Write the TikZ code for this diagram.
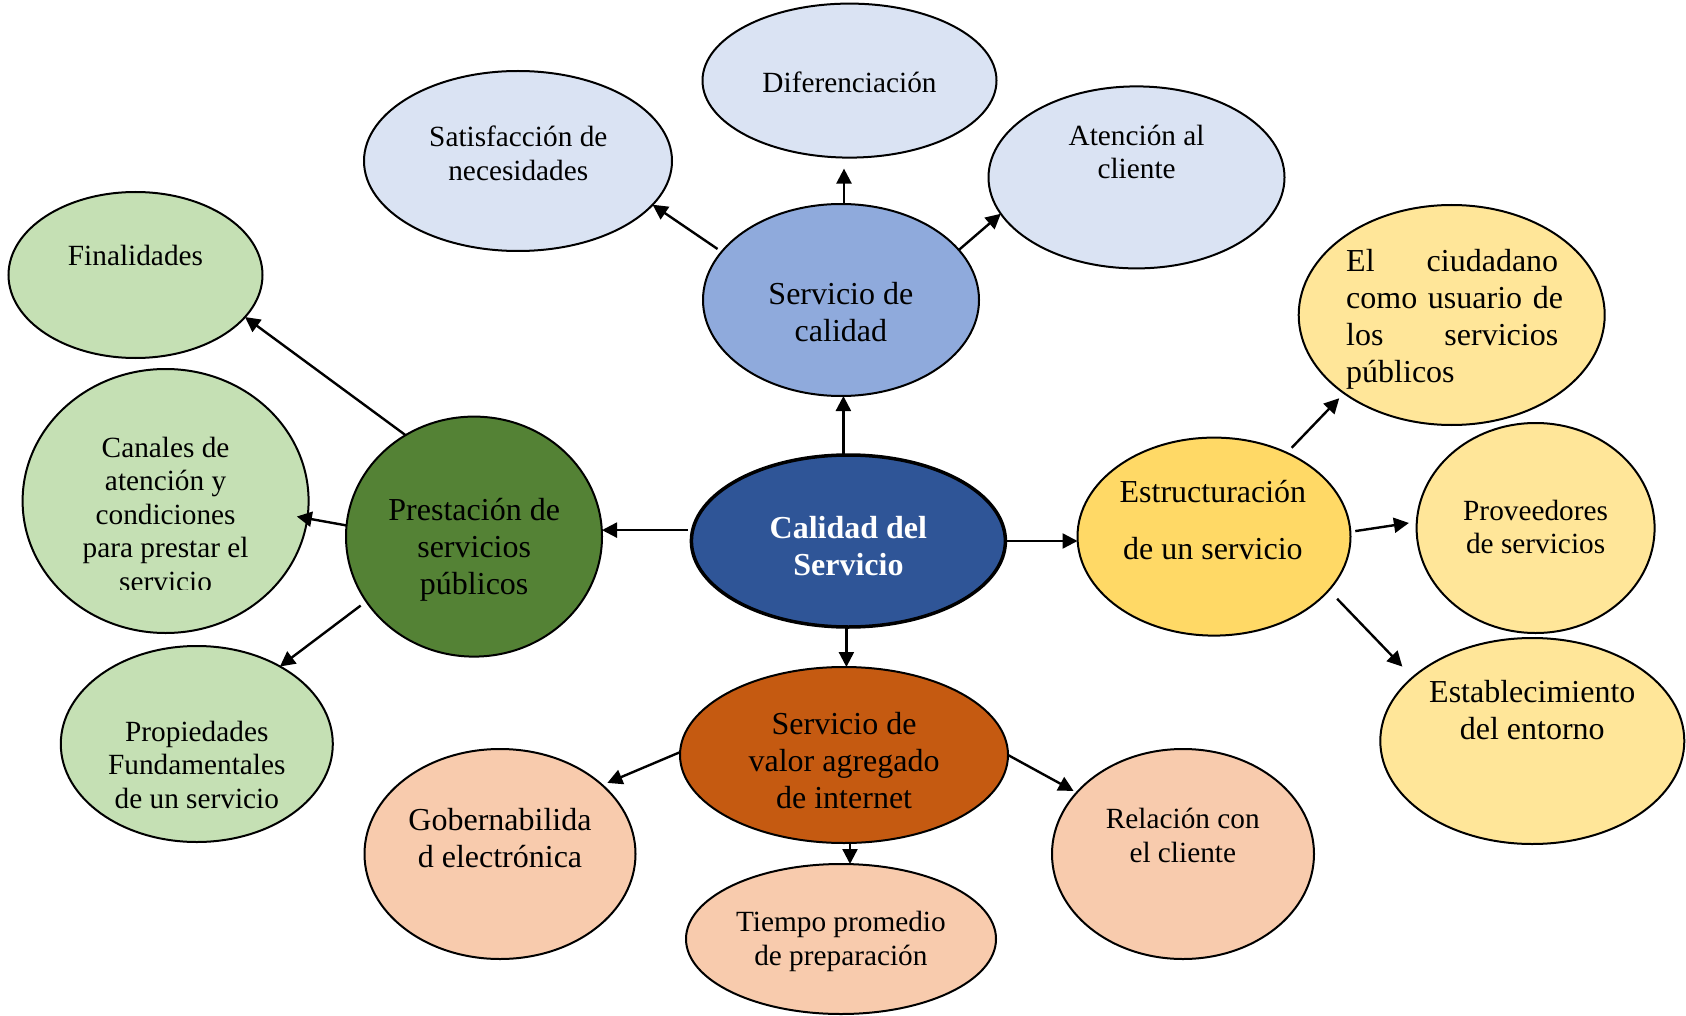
\documentclass[tikz,border=0pt]{standalone}
\usepackage{fontspec}
\setmainfont{Liberation Serif}
\usetikzlibrary{shapes.geometric,arrows.meta}
\definecolor{lblue}{HTML}{DAE3F3}
\definecolor{mblue}{HTML}{8FAADC}
\definecolor{dblue}{HTML}{2F5597}
\definecolor{lgreen}{HTML}{C5E0B4}
\definecolor{dgreen}{HTML}{548235}
\definecolor{lyellow}{HTML}{FFE699}
\definecolor{myellow}{HTML}{FFD966}
\definecolor{lorange}{HTML}{F8CBAD}
\definecolor{dorange}{HTML}{C55A11}
\begin{document}
\begin{tikzpicture}[x=1pt,y=-1pt,
  bubble/.style={ellipse,draw=black,line width=2pt,inner sep=0pt,outer sep=0pt},
  bigtxt/.style={font=\fontsize{32}{37}\selectfont,align=center,inner sep=0pt},
  smalltxt/.style={font=\fontsize{29.3}{33.5}\selectfont,align=center,inner sep=0pt},
  link/.style={line width=2.4pt,-{Triangle[length=15pt,width=15pt]}}]
\useasboundingbox (0,0) rectangle (1686,1016);

% ---------- bubbles ----------
\node[bubble,fill=lblue,minimum width=294pt,minimum height=154pt] (dif) at (849.5,80.6) {};
\node[bubble,fill=lblue,minimum width=308pt,minimum height=180pt] (sat) at (518,161) {};
\node[bubble,fill=lblue,minimum width=296pt,minimum height=182pt] (aten) at (1136.5,177.4) {};
\node[bubble,fill=mblue,minimum width=276pt,minimum height=192pt] (scal) at (841,300) {};

\node[bubble,fill=lgreen,minimum width=254pt,minimum height=166pt] (fin) at (135.5,275) {};
\node[bubble,fill=lgreen,minimum width=286pt,minimum height=264pt] (canal) at (165.6,501) {};
\node[bubble,fill=lgreen,minimum width=272pt,minimum height=196pt] (prop) at (196.8,744) {};
\node[bubble,fill=dgreen,minimum width=256pt,minimum height=240pt] (prest) at (474,536.6) {};

\node[bubble,fill=dblue,line width=3.5pt,minimum width=314pt,minimum height=172pt] (cal) at (848.4,541) {};

\node[bubble,fill=lyellow,minimum width=306pt,minimum height=220pt] (ciud) at (1451.7,315) {};
\node[bubble,fill=lyellow,minimum width=238pt,minimum height=210pt] (prov) at (1535.6,528) {};
\node[bubble,fill=lyellow,minimum width=304pt,minimum height=206pt] (estab) at (1532.3,741) {};
\node[bubble,fill=myellow,minimum width=273pt,minimum height=198pt] (estr) at (1214,536.6) {};

\node[bubble,fill=dorange,minimum width=328pt,minimum height=176pt] (val) at (844,755) {};
\node[bubble,fill=lorange,minimum width=271pt,minimum height=210pt] (gob) at (500,854) {};
\node[bubble,fill=lorange,minimum width=262pt,minimum height=210pt] (rel) at (1183,854) {};
\node[bubble,fill=lorange,minimum width=310pt,minimum height=150pt] (tie) at (841,939) {};

% ---------- texts ----------
\node[smalltxt] (diftxt) at (849.5,82.8) {Diferenciación};
\node[smalltxt] (sattxt) at (518.3,153.2) {Satisfacción de\\necesidades};
\node[smalltxt] (atentxt) at (1136.6,152.2) {Atención al\\cliente};
\node[bigtxt] (scaltxt) at (840.9,312.4) {Servicio de\\calidad};
\node[smalltxt] (fintxt) at (135.5,255.9) {Finalidades};
\begin{scope}
  \clip (0,0) rectangle (1686,589);
  \node[smalltxt] (canaltxt) at (165.6,514) {Canales de\\atención y\\condiciones\\para prestar el\\servicio};
\end{scope}
\node[bigtxt] (presttxt) at (474.2,549.5) {Prestación de\\servicios\\públicos};
\node[smalltxt] (proptxt) at (196.8,764.5) {Propiedades\\Fundamentales\\de un servicio};
\node[bigtxt,text=white,font=\fontsize{32}{37}\selectfont\bfseries] (caltxt) at (848.4,545.7) {Calidad del\\Servicio};
\node[bigtxt] (estrtxt) at (1212.9,519.9) {Estructuración\\[20pt]de un servicio};
% justified paragraph: each line spread to the full measure
\node[bigtxt,align=left,text width=212pt,anchor=west] (ciudtxt) at (1346,319)
  {\makebox[212pt][s]{El\hfill ciudadano}\\\makebox[212pt][s]{como usuario de}\\\makebox[212pt][s]{los\hfill servicios}\\públicos};
\node[smalltxt] (provtxt) at (1535.6,526.9) {Proveedores\\de servicios};
\node[bigtxt] (estabtxt) at (1532.3,709.7) {Establecimiento\\del entorno};
\node[bigtxt] (valtxt) at (844.1,760.2) {Servicio de\\valor agregado\\de internet};
\node[bigtxt] (gobtxt) at (500,838.2) {Gobernabilida\\d electrónica};
\node[smalltxt] (reltxt) at (1182.8,835.5) {Relación con\\el cliente};
\node[smalltxt] (tietxt) at (840.9,941.4) {Tiempo promedio\\de preparación};

% ---------- connectors ----------
\draw[link,shorten >=11pt] ([xshift=3pt]scal.north) -- ([xshift=3pt]scal.north |- dif.south);
\draw[link,shorten <=5pt] (scal.158.5) -- (sat.-18.6);
\draw[link] (scal.23.3) -- (aten.195.2);
\draw[link] ([xshift=-5pt]cal.north) -- ([xshift=-5pt]cal.north |- scal.south);
\draw[link,shorten <=5pt] (cal.176.5) -- (cal.176.5 -| prest.east);
\draw[link,shorten <=2pt] (cal.east) -- (cal.east -| estr.west);
\draw[link] ([xshift=-2pt]cal.south) -- ([xshift=-2pt]cal.south |- val.north);

\draw[link] (prest.124.6) -- (fin.-21.2);
\draw[link,shorten >=-10.7pt] (prest.175.2) -- (canal.-7.5);
\draw[link,shorten <=7pt] (prest.211.8) -- (prop.43.4);

\draw[link,shorten <=7pt,shorten >=7pt] (estr.49.45) -- (ciud.216.3);
\draw[link,shorten <=5pt,shorten >=8pt] (estr.2.4) -- (prov.177.2);
\draw[link,shorten <=12pt,shorten >=15pt] (estr.-25.8) -- (estab.152.65);

\draw[link,shorten >=5.6pt] (val.179.6) -- (gob.34.8);
\draw[link,shorten >=3.6pt] (val.-0.3) -- (rel.150.3);
\draw[link] ([xshift=6pt]val.south) -- ([xshift=6pt]val.south |- tie.north);
\end{tikzpicture}
\end{document}
